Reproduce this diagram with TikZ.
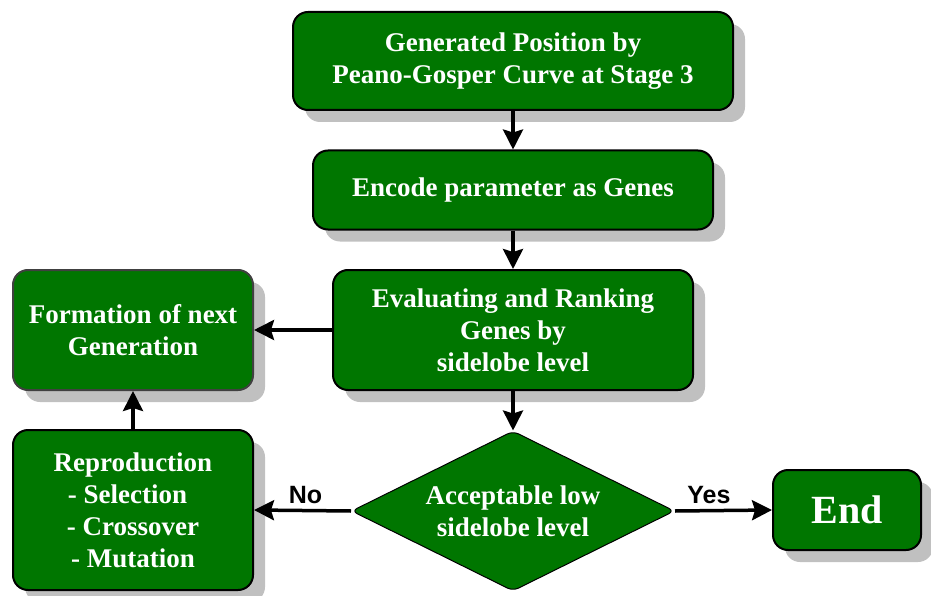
\documentclass[tikz,border=0pt]{standalone}
\usepackage{fontspec}
\setmainfont{Liberation Serif}
\newfontfamily\labelfont{Liberation Sans}
\usetikzlibrary{positioning,arrows.meta,shapes.geometric,shadows}
\definecolor{boxgreen}{RGB}{0,118,0}
\definecolor{shadowgray}{RGB}{192,192,192}

\begin{document}
\begin{tikzpicture}[x=1pt,y=1pt,font=\bfseries\fontsize{27}{32}\selectfont]
    \tikzstyle{stepbox}=[draw=black, line width=2pt, fill=boxgreen, text=white, rounded corners=15pt, align=center, inner sep=0pt,
        drop shadow={shadow xshift=12pt, shadow yshift=-12pt, fill=shadowgray, opacity=1}]
    \tikzstyle{decision}=[diamond, aspect=2.02, draw=black, line width=1pt, fill=boxgreen, text=white, align=center, rounded corners=6pt, inner sep=0pt]
    \tikzstyle{flow}=[line width=3.5pt, -{Stealth[length=20pt,width=20pt,inset=3pt]}]
    \tikzstyle{answer}=[font=\labelfont\bfseries\fontsize{25}{28}\selectfont, text=black]
    \useasboundingbox (0,0) rectangle (931,-596);
    \node[stepbox, minimum width=440pt, minimum height=98pt] (position) at (513,-61) {Generated Position by\\Peano-Gosper Curve at Stage 3};
    \node[stepbox, minimum width=400pt, minimum height=79pt] (encode) at (513,-190) {Encode parameter as Genes};
    \node[stepbox, minimum width=360pt, minimum height=120pt] (ranking) at (513,-330) {Evaluating and Ranking\\Genes by\\sidelobe level};
    \node[stepbox, draw=black!75, minimum width=240pt, minimum height=120pt] (formation) at (133,-330) {Formation of next\\Generation};
    \node[stepbox, minimum width=240pt, minimum height=160pt] (reproduction) at (133,-510) {Reproduction\\\hspace*{-0.4em}- Selection\\- Crossover\\- Mutation};
    \node[decision, minimum width=323pt, minimum height=160pt] (check) at (513,-511) {Acceptable low\\sidelobe level};
    \node[stepbox, minimum width=148pt, minimum height=80pt, font=\bfseries\fontsize{40}{44}\selectfont] (finish) at (847,-510) {End};
    \draw[flow] (position) -- (encode);
    \draw[flow] (encode) -- (ranking);
    \draw[flow] (ranking) -- (check);
    \draw[flow] (ranking) -- (formation);
    \draw[flow] (reproduction) -- (formation);
    \draw[flow] (check.west) -- node[answer, above=2pt, pos=0.47] (no) {No} (reproduction.east);
    \draw[flow] (check.east) -- node[answer, above=2pt, pos=0.35] (yes) {Yes} (finish.west);
\end{tikzpicture}
\end{document}
